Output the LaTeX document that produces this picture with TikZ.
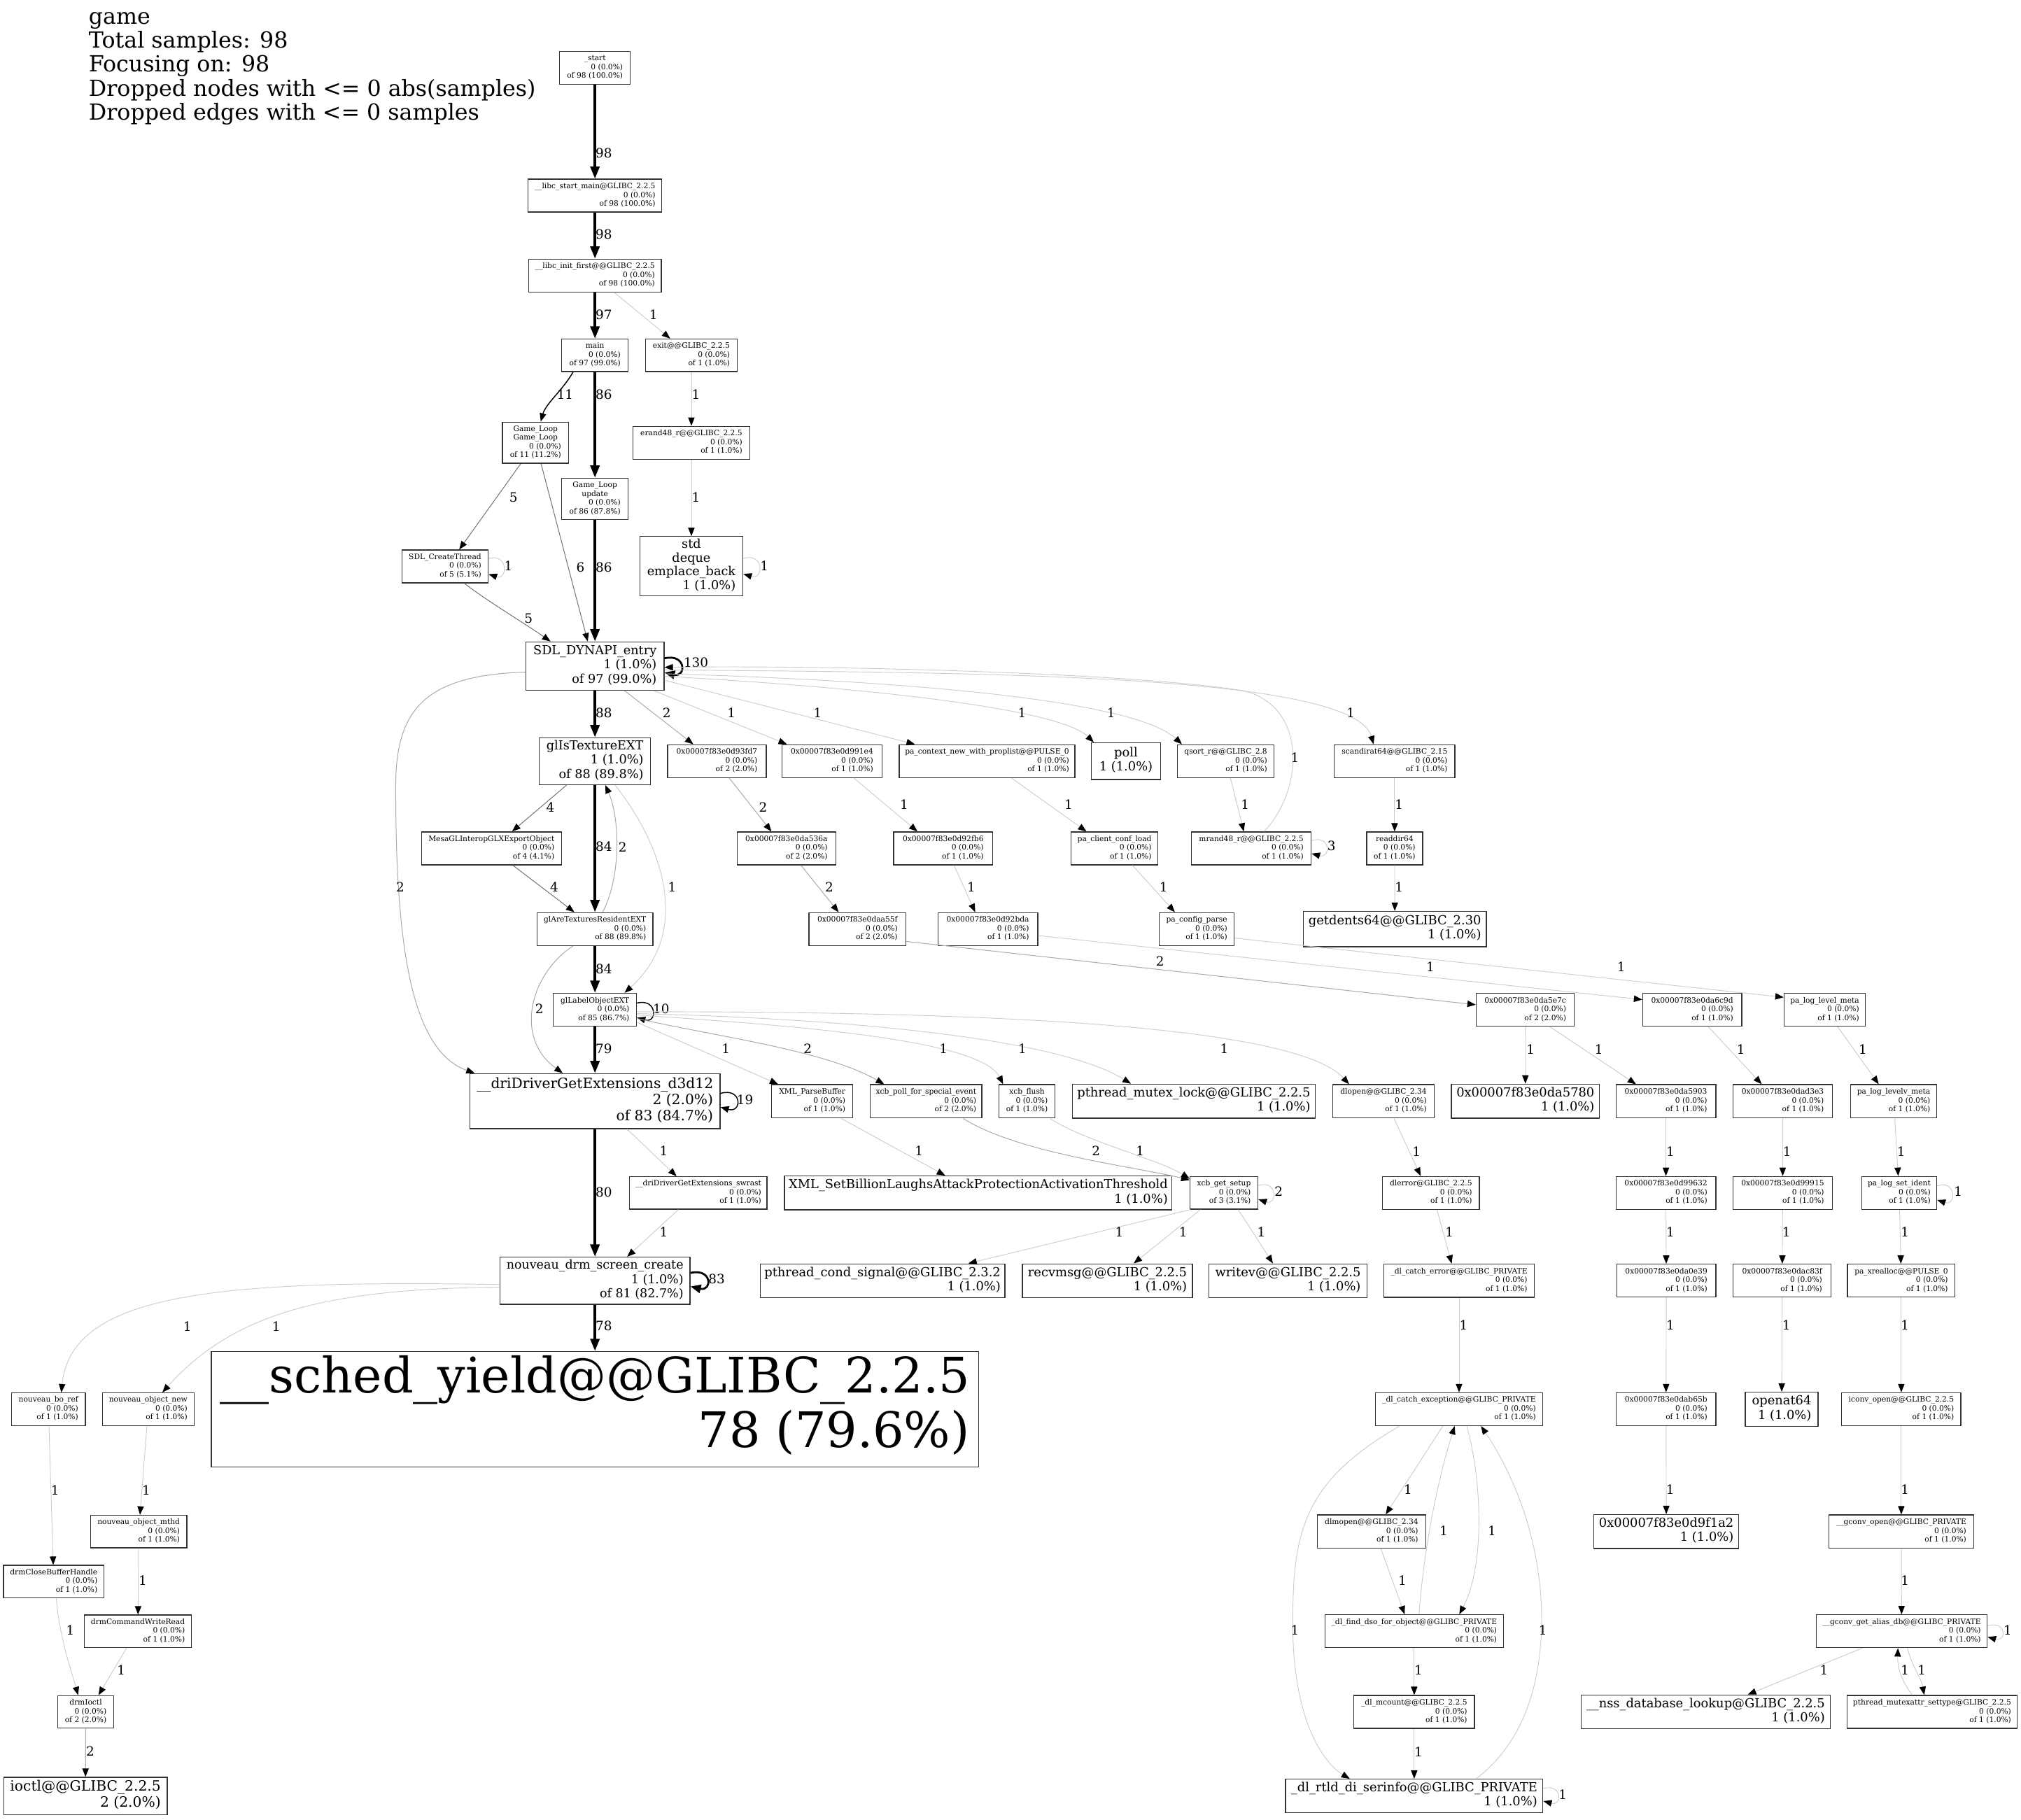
\documentclass[tikz,border=0pt]{standalone}
\usepackage{fontspec}
\setmainfont{DejaVu Serif}
\usetikzlibrary{arrows.meta}
\newcommand\C[1]{\multicolumn{1}{@{}c@{}}{#1}}
\newcommand\zone{0 (0.0\%)\\of 1 (1.0\%)}
\newcommand\fzS{\fontsize{5.8}{6.8}\selectfont}
\newcommand\fzM{\fontsize{9.6}{11.2}\selectfont}
\newcommand\fzN{\fontsize{9.5}{11.1}\selectfont}
\newcommand\fzL{\fontsize{9.7}{11}\selectfont}
\newcommand\fzD{\fontsize{11}{12.6}\selectfont}
\newcommand\fzY{\fontsize{38}{42}\selectfont}
\newcommand\fzT{\fontsize{9.6}{10.6}\selectfont}
\newcommand\fzE{\fontsize{10}{12}\selectfont}
\newcommand\fzH{\fontsize{17.2}{18.6}\selectfont}
\newcommand\nd[7]{\node[box,minimum width=#4pt,minimum height=#5pt,font=#6] (#1) at (#2,#3) {\begin{tabular}{@{}r@{}}#7\end{tabular}};}
\begin{document}
\begin{tikzpicture}[x=1pt,y=-1pt,
 box/.style={draw=black!80,line width=0.7pt,inner sep=0pt},
 lab/.style={font=\fzE,inner sep=0pt},
 ttl/.style={font=\fzH,inner sep=0pt,anchor=base west},
 e1/.style={draw=black!20,line width=0.5pt,-{Triangle[length=6.5pt,width=5pt,color=black]}},
 e2/.style={draw=black!33,line width=0.55pt,-{Triangle[length=6.5pt,width=5pt,color=black]}},
 e5/.style={draw=black!55,line width=0.55pt,-{Triangle[length=6.5pt,width=5pt,color=black]}},
 e10/.style={draw=black,line width=0.8pt,-{Triangle[length=6.5pt,width=5pt]}},
 eL/.style={draw=black,line width=1.5pt,-{Triangle[length=8pt,width=6.5pt]}},
 eH/.style={draw=black,line width=2pt,-{Triangle[length=9.5pt,width=7pt]}}]
\fill[white] (0,0) rectangle (1568,1412);
\useasboundingbox (0,0) rectangle (1568,1412);
% title
\node[ttl] (t1) at (68.7,18.6) {game};
\node[ttl] (t2) at (68.7,37.2) {Total samples: 98};
\node[ttl] (t3) at (68.7,55.8) {Focusing on: 98};
\node[ttl] (t4) at (68.7,74.4) {Dropped nodes with <= 0 abs(samples)};
\node[ttl] (t5) at (68.7,93) {Dropped edges with <= 0 samples};
% nodes
\nd{start}{461.6}{52.5}{55}{25.5}{\fzS}{\C{\_start}\\0 (0.0\%)\\of 98 (100.0\%)}
\nd{lsm}{461.6}{151.8}{103.6}{25.5}{\fzS}{\C{\_\_libc\_start\_main@GLIBC\_2.2.5}\\0 (0.0\%)\\of 98 (100.0\%)}
\nd{lif}{461.6}{213.8}{103}{25.5}{\fzS}{\C{\_\_libc\_init\_first@@GLIBC\_2.2.5}\\0 (0.0\%)\\of 98 (100.0\%)}
\nd{main}{461.6}{275.7}{51.5}{25.3}{\fzS}{\C{main}\\0 (0.0\%)\\of 97 (99.0\%)}
\nd{exit}{536.4}{275.7}{71}{25.3}{\fzS}{\C{exit@@GLIBC\_2.2.5}\\\zone}
\nd{gl}{415.5}{343.5}{51.3}{32}{\fzS}{\C{Game\_Loop}\\\C{Game\_Loop}\\0 (0.0\%)\\of 11 (11.2\%)}
\nd{erand}{536.4}{343.5}{90.7}{25.5}{\fzS}{\C{erand48\_r@@GLIBC\_2.2.5}\\\zone}
\nd{upd}{461.6}{387}{51.5}{32}{\fzS}{\C{Game\_Loop}\\\C{update}\\0 (0.0\%)\\of 86 (87.8\%)}
\nd{ct}{345.3}{439.5}{67}{25.5}{\fzS}{\C{SDL\_CreateThread}\\0 (0.0\%)\\of 5 (5.1\%)}
\nd{std}{536.4}{439.3}{80}{46}{\fzT}{\C{std}\\\C{deque}\\\C{emplace\_back}\\1 (1.0\%)}
\nd{sdl}{461.6}{516.8}{107.2}{37.5}{\fzM}{\C{SDL\_DYNAPI\_entry}\\1 (1.0\%)\\of 97 (99.0\%)}
\nd{glis}{461.6}{590.6}{86.3}{36.4}{\fzM}{\C{glIsTextureEXT}\\1 (1.0\%)\\of 88 (89.8\%)}
\nd{d93}{556.2}{590.6}{76.6}{25.6}{\fzS}{\C{0x00007f83e0d93fd7}\\0 (0.0\%)\\of 2 (2.0\%)}
\nd{d991}{645.5}{590.6}{77.7}{25.6}{\fzS}{\C{0x00007f83e0d991e4}\\\zone}
\nd{pactx}{765.8}{590.6}{136.4}{25.6}{\fzS}{\C{pa\_context\_new\_with\_proplist@@PULSE\_0}\\\zone}
\nd{poll}{873.6}{590.6}{53.6}{28.5}{\fzL}{\C{poll}\\1 (1.0\%)}
\nd{qsort}{951}{590.6}{75.1}{25.6}{\fzS}{\C{qsort\_r@@GLIBC\_2.8}\\\zone}
\nd{scandir}{1082}{590.6}{93.5}{25.6}{\fzS}{\C{scandirat64@@GLIBC\_2.15}\\\zone}
\nd{mesa}{381.3}{658.3}{108.6}{25.6}{\fzS}{\C{MesaGLInteropGLXExportObject}\\0 (0.0\%)\\of 4 (4.1\%)}
\nd{da536}{610.2}{658.3}{76.6}{25.6}{\fzS}{\C{0x00007f83e0da536a}\\0 (0.0\%)\\of 2 (2.0\%)}
\nd{d92fb6}{731.8}{658.3}{76.9}{25.6}{\fzS}{\C{0x00007f83e0d92fb6}\\\zone}
\nd{pacl}{864.7}{658.3}{67.3}{25.6}{\fzS}{\C{pa\_client\_conf\_load}\\\zone}
\nd{mrand}{970.8}{658.3}{92.9}{25.6}{\fzS}{\C{mrand48\_r@@GLIBC\_2.2.5}\\\zone}
\nd{readdir}{1082}{658.3}{43.4}{25.6}{\fzS}{\C{readdir64}\\\zone}
\nd{glare}{461.6}{720.9}{89.9}{25.6}{\fzS}{\C{glAreTexturesResidentEXT}\\0 (0.0\%)\\of 88 (89.8\%)}
\nd{daa}{665.3}{720.9}{75.4}{25.6}{\fzS}{\C{0x00007f83e0daa55f}\\0 (0.0\%)\\of 2 (2.0\%)}
\nd{d92bda}{766.4}{720.9}{77.4}{25.6}{\fzS}{\C{0x00007f83e0d92bda}\\\zone}
\nd{pacfg}{928.5}{720.9}{58.1}{25.6}{\fzS}{\C{pa\_config\_parse}\\\zone}
\nd{getd}{1082.2}{720.9}{142.1}{27.5}{\fzL}{\C{getdents64@@GLIBC\_2.30}\\1 (1.0\%)}
\nd{gllab}{461.6}{783.5}{64.5}{25.6}{\fzS}{\C{glLabelObjectEXT}\\0 (0.0\%)\\of 85 (86.7\%)}
\nd{da5e7c}{1183.4}{783.5}{76.2}{25.6}{\fzS}{\C{0x00007f83e0da5e7c}\\0 (0.0\%)\\of 2 (2.0\%)}
\nd{da6c9d}{1312.9}{783.5}{76.8}{25.6}{\fzS}{\C{0x00007f83e0da6c9d}\\\zone}
\nd{lvlmeta}{1415.7}{783.5}{63}{25.6}{\fzS}{\C{pa\_log\_level\_meta}\\\zone}
\nd{d3d}{461.6}{854.4}{194}{42.8}{\fzD}{\C{\_\_driDriverGetExtensions\_d3d12}\\2 (2.0\%)\\of 83 (84.7\%)}
\nd{xmlpb}{630.2}{854.4}{63}{25.6}{\fzS}{\C{XML\_ParseBuffer}\\\zone}
\nd{xcbpoll}{718.5}{854.4}{86.4}{25.6}{\fzS}{\C{xcb\_poll\_for\_special\_event}\\0 (0.0\%)\\of 2 (2.0\%)}
\nd{xcbflush}{796.8}{854.4}{43.2}{25.6}{\fzS}{\C{xcb\_flush}\\\zone}
\nd{mutex}{926.2}{854.4}{188.6}{26.4}{\fzL}{\C{pthread\_mutex\_lock@@GLIBC\_2.2.5}\\1 (1.0\%)}
\nd{dlopen}{1073.4}{854.4}{78.9}{25.6}{\fzS}{\C{dlopen@@GLIBC\_2.34}\\\zone}
\nd{x5780}{1183.5}{854.4}{115}{26.5}{\fzL}{\C{0x00007f83e0da5780}\\1 (1.0\%)}
\nd{da5903}{1292.5}{854.4}{77.5}{25.6}{\fzS}{\C{0x00007f83e0da5903}\\\zone}
\nd{dad3e3}{1383.1}{854.4}{76.9}{25.6}{\fzS}{\C{0x00007f83e0dad3e3}\\\zone}
\nd{lvlvmeta}{1469.2}{854.4}{66.8}{25.6}{\fzS}{\C{pa\_log\_levelv\_meta}\\\zone}
\nd{swrast}{541.8}{925.6}{106.6}{25.2}{\fzS}{\C{\_\_driDriverGetExtensions\_swrast}\\\zone}
\nd{xmlset}{759}{925.6}{300.6}{26.3}{\fzL}{\C{XML\_SetBillionLaughsAttackProtectionActivationThreshold}\\1 (1.0\%)}
\nd{getsetup}{949.6}{925.6}{52.7}{25.2}{\fzS}{\C{xcb\_get\_setup}\\0 (0.0\%)\\of 3 (3.1\%)}
\nd{dlerror}{1110.2}{925.6}{75.2}{25.6}{\fzS}{\C{dlerror@GLIBC\_2.2.5}\\\zone}
\nd{d99632}{1292.5}{925.6}{77.5}{25.6}{\fzS}{\C{0x00007f83e0d99632}\\\zone}
\nd{d99915}{1383.1}{925.6}{77.2}{25.6}{\fzS}{\C{0x00007f83e0d99915}\\\zone}
\nd{setident}{1473.5}{925.6}{58.2}{25.6}{\fzS}{\C{pa\_log\_set\_ident}\\\zone}
\nd{ndrm}{461.6}{993.7}{147.6}{36.5}{\fzN}{\C{nouveau\_drm\_screen\_create}\\1 (1.0\%)\\of 81 (82.7\%)}
\nd{condsig}{684.7}{993.7}{190}{26.1}{\fzL}{\C{pthread\_cond\_signal@@GLIBC\_2.3.2}\\1 (1.0\%)}
\nd{recvmsg}{859.2}{993.7}{131.9}{26.1}{\fzL}{\C{recvmsg@@GLIBC\_2.2.5}\\1 (1.0\%)}
\nd{writev}{999.3}{993.7}{122.4}{26.1}{\fzL}{\C{writev@@GLIBC\_2.2.5}\\1 (1.0\%)}
\nd{catcherr}{1132}{993.7}{116.6}{25.8}{\fzS}{\C{\_dl\_catch\_error@@GLIBC\_PRIVATE}\\\zone}
\nd{da0e39}{1292.8}{993.7}{76.8}{25.6}{\fzS}{\C{0x00007f83e0da0e39}\\\zone}
\nd{dac83f}{1382.7}{993.7}{75.9}{25.6}{\fzS}{\C{0x00007f83e0dac83f}\\\zone}
\nd{xrealloc}{1475.1}{993.7}{83.4}{25.6}{\fzS}{\C{pa\_xrealloc@@PULSE\_0}\\\zone}
\nd{boref}{37.6}{1093.4}{57.2}{25.3}{\fzS}{\C{nouveau\_bo\_ref}\\\zone}
\nd{objnew}{115}{1093.4}{71}{25.3}{\fzS}{\C{nouveau\_object\_new}\\\zone}
\nd{sched}{461.6}{1093.4}{595.2}{89.5}{\fzY}{\C{\_\_sched\_yield@@GLIBC\_2.2.5}\\78 (79.6\%)}
\nd{catchexc}{1132}{1093.4}{130}{25.5}{\fzS}{\C{\_dl\_catch\_exception@@GLIBC\_PRIVATE}\\\zone}
\nd{dab65b}{1292.6}{1093.4}{77.2}{25.5}{\fzS}{\C{0x00007f83e0dab65b}\\\zone}
\nd{openat}{1382.3}{1093.4}{56.5}{26.4}{\fzL}{\C{openat64}\\1 (1.0\%)}
\nd{iconv}{1475.1}{1093.4}{92.4}{25.5}{\fzS}{\C{iconv\_open@@GLIBC\_2.2.5}\\\zone}
\nd{mthd}{107.6}{1188.3}{74.7}{25.3}{\fzS}{\C{nouveau\_object\_mthd}\\\zone}
\nd{dlmopen}{1064.1}{1188.3}{84}{25.8}{\fzS}{\C{dlmopen@@GLIBC\_2.34}\\\zone}
\nd{x9f1a2}{1292.8}{1188.3}{112.4}{26.3}{\fzL}{\C{0x00007f83e0d9f1a2}\\1 (1.0\%)}
\nd{gconvopen}{1475.1}{1188.3}{112.4}{25.8}{\fzS}{\C{\_\_gconv\_open@@GLIBC\_PRIVATE}\\\zone}
\nd{drmclose}{41.7}{1227.2}{78}{25.3}{\fzS}{\C{drmCloseBufferHandle}\\\zone}
\nd{cmdwr}{107}{1265.7}{83.2}{25.3}{\fzS}{\C{drmCommandWriteRead}\\\zone}
\nd{finddso}{1097.2}{1265.7}{138.3}{25.6}{\fzS}{\C{\_dl\_find\_dso\_for\_object@@GLIBC\_PRIVATE}\\\zone}
\nd{alias}{1475.4}{1265.7}{132.7}{25.6}{\fzS}{\C{\_\_gconv\_get\_alias\_db@@GLIBC\_PRIVATE}\\\zone}
\nd{drmioctl}{66.5}{1328.3}{43.4}{25.3}{\fzS}{\C{drmIoctl}\\0 (0.0\%)\\of 2 (2.0\%)}
\nd{mcount}{1097.2}{1328.3}{93.6}{25.5}{\fzS}{\C{\_dl\_mcount@@GLIBC\_2.2.5}\\\zone}
\nd{nss}{1323.3}{1328.3}{193.4}{26.3}{\fzL}{\C{\_\_nss\_database\_lookup@GLIBC\_2.2.5}\\1 (1.0\%)}
\nd{mutexattr}{1499}{1328.3}{132}{25.6}{\fzS}{\C{pthread\_mutexattr\_settype@GLIBC\_2.2.5}\\\zone}
\nd{ioctl}{66.3}{1393.5}{126.8}{29}{\fzD}{\C{ioctl@@GLIBC\_2.2.5}\\2 (2.0\%)}
\nd{rtld}{1097.2}{1393.5}{199.7}{26}{\fzL}{\C{\_dl\_rtld\_di\_serinfo@@GLIBC\_PRIVATE}\\1 (1.0\%)}
% heavy spine
\draw[eH] (start) -- (lsm) node[lab] at (468.5,119) {98};
\draw[eH] (lsm) -- (lif) node[lab] at (468.5,182) {98};
\draw[eH] (lif) -- (main) node[lab] at (468.5,244) {97};
\draw[eH] (main) -- (upd) node[lab] at (468.5,306) {86};
\draw[eH] (upd) -- (sdl) node[lab] at (468.5,440) {86};
\draw[eH] (sdl) -- (glis) node[lab] at (468.5,553) {88};
\draw[eH] (glis) -- (glare) node[lab] at (468.5,657) {84};
\draw[eH] (glare) -- (gllab) node[lab] at (468.5,752) {84};
\draw[eH] (gllab) -- (d3d) node[lab] at (468.5,813.5) {79};
\draw[eH] (d3d) -- (ndrm) node[lab] at (468.5,925) {80};
\draw[eH] (ndrm) -- (sched) node[lab] at (468.5,1029) {78};
% top part
\draw[e1] ([xshift=15pt]lif.south) -- ([xshift=-16.4pt]exit.north) node[lab] at (507,244) {1};
\draw[e10] ([xshift=-17pt]main.south) .. controls +(-8,14) and +(4,-14) .. ([xshift=4pt]gl.north) node[lab] at (438.4,306) {11};
\draw[e1] (exit) -- (erand) node[lab] at (540,306) {1};
\draw[e5] ([xshift=-11.5pt]gl.south) -- ([xshift=11pt]ct.north) node[lab] at (398.4,386) {5};
\draw[e5] ([xshift=4.3pt]gl.south) -- ([xshift=-5.6pt]sdl.north) node[lab] at (450.4,440) {6};
\draw[e1] (erand) -- (std) node[lab] at (540,386) {1};
\draw[e5] ([xshift=15pt]ct.south) .. controls +(15,12) and +(-20,-14) .. ([xshift=-34.5pt]sdl.north) node[lab] at (410,480) {5};
\draw[e1] ([yshift=6pt]ct.east) .. controls +(15,-5) and +(15,5) .. ([yshift=-6pt]ct.east) node[lab] at (394.4,439) {1};
\draw[e1] ([yshift=6pt]std.east) .. controls +(16,-5) and +(16,5) .. ([yshift=-6pt]std.east) node[lab] at (593,439) {1};
\draw[eL] ([yshift=6pt]sdl.east) .. controls +(17,-4) and +(17,4) .. ([yshift=-5pt]sdl.east) node[lab] at (540,514) {130};
% SDL fan-out
\draw[e2] ([xshift=23pt]sdl.south) -- ([xshift=-18.3pt]d93.north) node[lab] at (517.3,553) {2};
\draw[e1] ([xshift=45.8pt]sdl.south) -- ([xshift=-35pt]d991.north) node[lab] at (567.5,553) {1};
\draw[e1] ([yshift=-11pt]sdl.east) -- ([xshift=-56pt]pactx.north) node[lab] at (634.4,553) {1};
\draw[e1] ([yshift=-8pt]sdl.east) .. controls (650,532) and (820,548) .. ([xshift=-25pt]poll.north) node[lab] at (793,553) {1};
\draw[e1] ([yshift=-6pt]sdl.east) .. controls (700,528) and (880,543) .. ([xshift=-34pt]qsort.north) node[lab] at (862,553) {1};
\draw[e1] ([yshift=-3pt]sdl.east) .. controls (750,522) and (1050,522) .. ([xshift=-16.3pt]scandir.north) node[lab] at (1048,553) {1};
\draw[e1] ([xshift=10pt]mrand.north) .. controls (1012,612) and (1014,548) .. (965,536) .. controls (880,522) and (640,516) .. ([yshift=-1pt]sdl.east) node[lab] at (1004.7,588) {1};
\draw[e2] ([yshift=-4.7pt]sdl.west) .. controls (330,524) and (307,550) .. (307,610) .. controls (307,730) and (318,815) .. ([xshift=4pt]d3d.north west) node[lab] at (310.5,688) {2};
% glIsTexture block
\draw[e5] ([xshift=-22pt]glis.south) -- ([xshift=16pt]mesa.north) node[lab] at (427,626.6) {4};
\draw[e2] ([xshift=6pt]glare.north) .. controls (482,680) and (481,635) .. ([xshift=8pt]glis.south) node[lab] at (483,657.3) {2};
\draw[e1] ([xshift=15.5pt]glis.south) .. controls (510,650) and (540,720) .. ([xshift=23pt]gllab.north) node[lab] at (521.5,688.3) {1};
\draw[e5] ([xshift=16.7pt]mesa.south) -- ([xshift=-16pt]glare.north) node[lab] at (430,688.3) {4};
\draw[e2] ([xshift=-17pt]glare.south) .. controls (412,755) and (398,805) .. ([xshift=-25pt]d3d.north) node[lab] at (418.5,782.7) {2};
% hex chains
\draw[e2] ([xshift=9.6pt]d93.south) -- ([xshift=-11.7pt]da536.north) node[lab] at (592,626.3) {2};
\draw[e2] ([xshift=11.3pt]da536.south) -- ([xshift=-14.7pt]daa.north) node[lab] at (643.4,688.3) {2};
\draw[e1] ([xshift=17pt]d991.south) -- ([xshift=-20pt]d92fb6.north) node[lab] at (701.5,624.4) {1};
\draw[e1] ([xshift=8.4pt]d92fb6.south) -- ([xshift=-9.8pt]d92bda.north) node[lab] at (753.6,688) {1};
\draw[e1] ([xshift=19pt]pactx.south) -- ([xshift=-21.8pt]pacl.north) node[lab] at (829,624.4) {1};
\draw[e1] ([xshift=14pt]pacl.south) -- ([xshift=-17pt]pacfg.north) node[lab] at (902.8,688) {1};
\draw[e1] ([xshift=3.6pt]qsort.south) -- ([xshift=-5.8pt]mrand.north) node[lab] at (966,624.4) {1};
\draw[e1] ([yshift=6pt]mrand.east) .. controls +(15,-5) and +(15,4) .. ([yshift=-4pt]mrand.east) node[lab] at (1033,656.4) {3};
\draw[e1] (scandir) -- (readdir) node[lab] at (1085.5,624.4) {1};
\draw[e1] (readdir) -- (getd) node[lab] at (1085.5,688) {1};
\draw[e2] ([yshift=-9.6pt]daa.east) -- ([yshift=3.9pt]da5e7c.west) node[lab] at (900,746) {2};
\draw[e1] ([yshift=-5pt]d92bda.east) -- ([yshift=7.9pt]da6c9d.west) node[lab] at (1109.7,750) {1};
\draw[e1] ([yshift=-7pt]pacfg.east) -- ([yshift=9.7pt]lvlmeta.west) node[lab] at (1257.8,750.3) {1};
% glLabelObjectEXT fan-out
\draw[e10] ([yshift=5.2pt]gllab.east) .. controls +(16,-4) and +(16,5) .. ([yshift=-6pt]gllab.east) node[lab] at (513,782.7) {10};
\draw[e1] ([yshift=-9.7pt]gllab.east) -- ([xshift=-26.5pt]xmlpb.north) node[lab] at (563.2,813.5) {1};
\draw[e2] ([yshift=-6.8pt]gllab.east) .. controls (560,805) and (640,815) .. ([xshift=-32.5pt]xcbpoll.north) node[lab] at (626.7,813.5) {2};
\draw[e1] ([yshift=-4pt]gllab.east) .. controls (600,795) and (760,805) .. ([xshift=-18.5pt]xcbflush.north) node[lab] at (732,813.5) {1};
\draw[e1] ([yshift=-3pt]gllab.east) .. controls (650,790) and (820,805) .. ([xshift=-48.8pt]mutex.north) node[lab] at (793.2,813.5) {1};
\draw[e1] ([yshift=-1.5pt]gllab.east) .. controls (700,785) and (1000,790) .. ([xshift=-26.7pt]dlopen.north) node[lab] at (949.8,813.5) {1};
\draw[e1] (da5e7c) -- (x5780) node[lab] at (1187.5,814) {1};
\draw[e1] ([xshift=19pt]da5e7c.south) -- ([xshift=-23.2pt]da5903.north) node[lab] at (1240.5,814) {1};
\draw[e1] ([xshift=12.5pt]da6c9d.south) -- ([xshift=-16.3pt]dad3e3.north) node[lab] at (1350.6,814) {1};
\draw[e1] ([xshift=10pt]lvlmeta.south) -- ([xshift=-11.6pt]lvlvmeta.north) node[lab] at (1445.2,814) {1};
% d3d12 rank
\draw[e10] ([yshift=6pt]d3d.east) .. controls +(17,-5) and +(17,5) .. ([yshift=-4.6pt]d3d.east) node[lab] at (578,853.6) {19};
\draw[e1] ([xshift=25pt]d3d.south) -- ([xshift=-16.9pt]swrast.north) node[lab] at (515,892.8) {1};
\draw[e1] ([xshift=22pt]xmlpb.south) -- ([xshift=-25.7pt]xmlset.north) node[lab] at (713,892.8) {1};
\draw[e2] ([xshift=28.3pt]xcbpoll.south) .. controls (790,895) and (880,905) .. ([yshift=10pt]getsetup.west) node[lab] at (850.4,892.8) {2};
\draw[e1] ([xshift=17.5pt]xcbflush.south) .. controls (840,885) and (900,900) .. ([yshift=11pt]getsetup.west) node[lab] at (884.6,892.8) {1};
\draw[e1] ([yshift=5.7pt]getsetup.east) .. controls +(15,-5) and +(15,5) .. ([yshift=-5pt]getsetup.east) node[lab] at (992,924.7) {2};
\draw[e1] ([xshift=8pt]dlopen.south) -- ([xshift=-8pt]dlerror.north) node[lab] at (1099,893.3) {1};
\draw[e1] (da5903) -- (d99632) node[lab] at (1296,893.3) {1};
\draw[e1] (dad3e3) -- (d99915) node[lab] at (1386.5,893.3) {1};
\draw[e1] (lvlvmeta) -- (setident) node[lab] at (1475,893.3) {1};
\draw[e1] ([yshift=5.5pt]setident.east) .. controls +(15,-5) and +(15,5) .. ([yshift=-5.5pt]setident.east) node[lab] at (1519.2,924.6) {1};
% swrast rank
\draw[e1] ([xshift=-15.5pt]swrast.south) -- ([xshift=25pt]ndrm.north) node[lab] at (515,956) {1};
\draw[e1] ([xshift=-26pt]getsetup.south) -- ([xshift=66.6pt]condsig.north) node[lab] at (868.4,956) {1};
\draw[e1] ([xshift=-18.2pt]getsetup.south) -- ([xshift=20.4pt]recvmsg.north) node[lab] at (917.9,956) {1};
\draw[e1] ([xshift=11pt]getsetup.south) -- ([xshift=-11.7pt]writev.north) node[lab] at (978.6,956) {1};
\draw[e1] ([xshift=4.7pt]dlerror.south) -- ([xshift=-5.7pt]catcherr.north) node[lab] at (1124.5,956) {1};
\draw[e1] (d99632) -- (da0e39) node[lab] at (1296,956) {1};
\draw[e1] (d99915) -- (dac83f) node[lab] at (1386,956) {1};
\draw[e1] (setident) -- (xrealloc) node[lab] at (1478,956) {1};
% nouveau rank
\draw[eL] ([yshift=6pt]ndrm.east) .. controls +(17,-4) and +(17,4) .. ([yshift=-4.5pt]ndrm.east) node[lab] at (556,992.4) {83};
\draw[e1] ([yshift=-3pt]ndrm.west) .. controls (170,993) and (55,1003) .. ([xshift=10pt]boref.north) node[lab] at (145.4,1029.3) {1};
\draw[e1] ([yshift=-5pt]ndrm.west) .. controls (250,1000) and (180,1020) .. ([xshift=11pt]objnew.north) node[lab] at (214.3,1029.3) {1};
\draw[e1] (catcherr) -- (catchexc) node[lab] at (1135.5,1028.4) {1};
\draw[e1] (da0e39) -- (dab65b) node[lab] at (1296,1028.4) {1};
\draw[e1] (dac83f) -- (openat) node[lab] at (1386,1028.4) {1};
\draw[e1] (xrealloc) -- (iconv) node[lab] at (1478,1028.4) {1};
% lower left
\draw[e1] (boref) -- (drmclose) node[lab] at (42.7,1156) {1};
\draw[e1] (objnew) -- (mthd) node[lab] at (113.4,1156) {1};
\draw[e1] (mthd) -- (cmdwr) node[lab] at (110.8,1226.5) {1};
\draw[e1] ([xshift=2pt]drmclose.south) .. controls (46,1270) and (55,1295) .. ([xshift=-5.9pt]drmioctl.north) node[lab] at (54.5,1264.7) {1};
\draw[e1] ([xshift=-8.8pt]cmdwr.south) -- ([xshift=9.9pt]drmioctl.north) node[lab] at (94,1295.8) {1};
\draw[e2] (drmioctl) -- (ioctl) node[lab] at (70,1358.9) {2};
% dl cluster
\draw[e1] ([xshift=-12.6pt]catchexc.south) -- ([xshift=11pt]dlmopen.north) node[lab] at (1092.4,1155.7) {1};
\draw[e1] ([xshift=7.2pt]dlmopen.south) -- ([xshift=-7.4pt]finddso.north) node[lab] at (1088,1226.4) {1};
\draw[e1] ([xshift=3.7pt]finddso.north) .. controls (1105,1200) and (1115,1150) .. ([xshift=-3.4pt]catchexc.south) node[lab] at (1120.1,1187.5) {1};
\draw[e1] ([xshift=6pt]catchexc.south) .. controls (1150,1150) and (1152,1215) .. ([xshift=35pt]finddso.north) node[lab] at (1157.5,1187.5) {1};
\draw[e1] ([xshift=-46pt]catchexc.south) .. controls (1010,1150) and (1003,1190) .. (1003,1260) .. controls (1003,1340) and (1030,1370) .. ([xshift=-50pt]rtld.north) node[lab] at (1004.7,1264.7) {1};
\draw[e1] ([xshift=48pt]rtld.north) .. controls (1185,1350) and (1197,1300) .. (1196,1250) .. controls (1194,1180) and (1165,1130) .. ([xshift=17pt]catchexc.south) node[lab] at (1197,1264.7) {1};
\draw[e1] (finddso) -- (mcount) node[lab] at (1100.5,1295.8) {1};
\draw[e1] (mcount) -- (rtld) node[lab] at (1100.5,1359.2) {1};
\draw[e1] ([yshift=5.8pt]rtld.east) .. controls +(15,-4) and +(15,4) .. ([yshift=-4pt]rtld.east) node[lab] at (1212.5,1392.6) {1};
% right columns
\draw[e1] (dab65b) -- (x9f1a2) node[lab] at (1295.8,1155.7) {1};
\draw[e1] (iconv) -- (gconvopen) node[lab] at (1478,1155.7) {1};
\draw[e1] (gconvopen) -- (alias) node[lab] at (1478,1226.4) {1};
\draw[e1] ([yshift=4.3pt]alias.east) .. controls +(15,-4) and +(15,4) .. ([yshift=-4.5pt]alias.east) node[lab] at (1557.6,1264.7) {1};
\draw[e1] ([xshift=-30.6pt]alias.south) -- ([xshift=32.7pt]nss.north) node[lab] at (1415.2,1295.8) {1};
\draw[e1] ([xshift=-15.4pt]mutexattr.north) .. controls (1476,1305) and (1472,1295) .. ([xshift=-2.9pt]alias.south) node[lab] at (1478,1295.8) {1};
\draw[e1] ([xshift=4.5pt]alias.south) .. controls (1484,1295) and (1490,1300) .. ([xshift=-6.1pt]mutexattr.north) node[lab] at (1491,1295.8) {1};
\end{tikzpicture}
\end{document}
